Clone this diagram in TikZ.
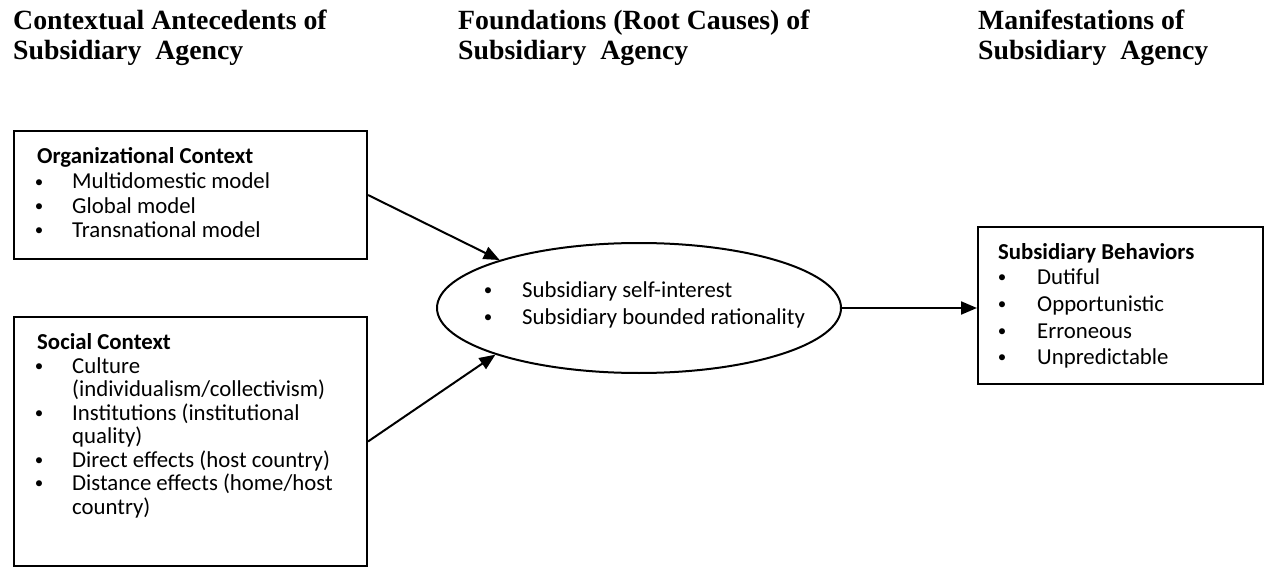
\documentclass[tikz,border=0pt]{standalone}
\usepackage{fontspec}
\setmainfont{Liberation Serif}
\newfontfamily\calfont{Carlito}
\usetikzlibrary{shapes.geometric,arrows.meta}
\tikzset{
 box/.style={draw, line width=2pt, rectangle, inner sep=0pt, anchor=north west},
 ellbox/.style={draw, line width=2pt, ellipse, inner sep=0pt},
 txt/.style={anchor=base west, inner sep=0pt, font=\calfont\fontsize{22.8}{27}\selectfont},
 btxt/.style={anchor=base west, inner sep=0pt, font=\calfont\bfseries\fontsize{22.8}{27}\selectfont},
 bul/.style={anchor=base, inner sep=0pt, font=\calfont\fontsize{17}{20}\selectfont},
 head/.style={anchor=base west, inner sep=0pt, font=\bfseries\fontsize{27.8}{30}\selectfont},
 arr/.style={line width=2pt, -{Triangle[length=16pt,width=13pt]}}
}
\newcommand\bdot{\raisebox{1.6pt}{•}}
\begin{document}
\begin{tikzpicture}[x=1pt,y=-1pt]
\useasboundingbox (0,0) rectangle (1267,567);
% headings
\node[head] (h1a) at (13,30) {Contextual Antecedents of};
\node[head] (h1b) at (13,60) {Subsidiary\ \ Agency};
\node[head] (h2a) at (458,30) {Foundations (Root Causes) of};
\node[head] (h2b) at (458,60) {Subsidiary\ \ Agency};
\node[head] (h3a) at (978,30) {Manifestations of};
\node[head] (h3b) at (978,60) {Subsidiary\ \ Agency};
% boxes
\node[box, minimum width=353pt, minimum height=128pt] (org) at (13,130) {};
\node[box, minimum width=353pt, minimum height=249pt] (soc) at (13,316) {};
\node[box, minimum width=285pt, minimum height=157pt] (beh) at (977,226) {};
\node[ellbox, minimum width=404pt, minimum height=130pt] (ell) at (639,308) {};
% organizational context
\node[btxt] (orgh) at (37,164) {Organizational Context};
\node[bul] (ob1) at (39,189) {\bdot};
\node[txt] (ot1) at (72,189) {Multidomestic model};
\node[bul] (ob2) at (39,213) {\bdot};
\node[txt] (ot2) at (72,213) {Global model};
\node[bul] (ob3) at (39,237) {\bdot};
\node[txt] (ot3) at (72,237) {Transnational model};
% social context
\node[btxt] (soch) at (37,349) {Social Context};
\node[bul] (sb1) at (39,373) {\bdot};
\node[txt] (st1) at (72,373) {Culture};
\node[txt] (st1b) at (72,396.5) {(individualism/collectivism)};
\node[bul] (sb2) at (39,420) {\bdot};
\node[txt] (st2) at (72,420) {Institutions (institutional};
\node[txt] (st2b) at (72,443.5) {quality)};
\node[bul] (sb3) at (39,467) {\bdot};
\node[txt] (st3) at (72,467) {Direct effects (host country)};
\node[bul] (sb4) at (39,490.5) {\bdot};
\node[txt] (st4) at (72,490.5) {Distance effects (home/host};
\node[txt] (st4b) at (72,514) {country)};
% ellipse text
\node[bul] (eb1) at (488,297) {\bdot};
\node[txt] (et1) at (522,297) {Subsidiary self-interest};
\node[bul] (eb2) at (488,324) {\bdot};
\node[txt] (et2) at (522,324) {Subsidiary bounded rationality};
% behaviors
\node[btxt] (behh) at (998,259) {Subsidiary Behaviors};
\node[bul] (bb1) at (1002,284) {\bdot};
\node[txt] (bt1) at (1037,284) {Dutiful};
\node[bul] (bb2) at (1002,311) {\bdot};
\node[txt] (bt2) at (1037,311) {Opportunistic};
\node[bul] (bb3) at (1002,338) {\bdot};
\node[txt] (bt3) at (1037,338) {Erroneous};
\node[bul] (bb4) at (1002,364) {\bdot};
\node[txt] (bt4) at (1037,364) {Unpredictable};
% connectors
\draw[arr] (org.east) -- (ell.161);
\draw[arr] (soc.east) -- (ell.198);
\draw[arr] (ell.east) -- (ell.east -| beh.west);
\end{tikzpicture}
\end{document}
